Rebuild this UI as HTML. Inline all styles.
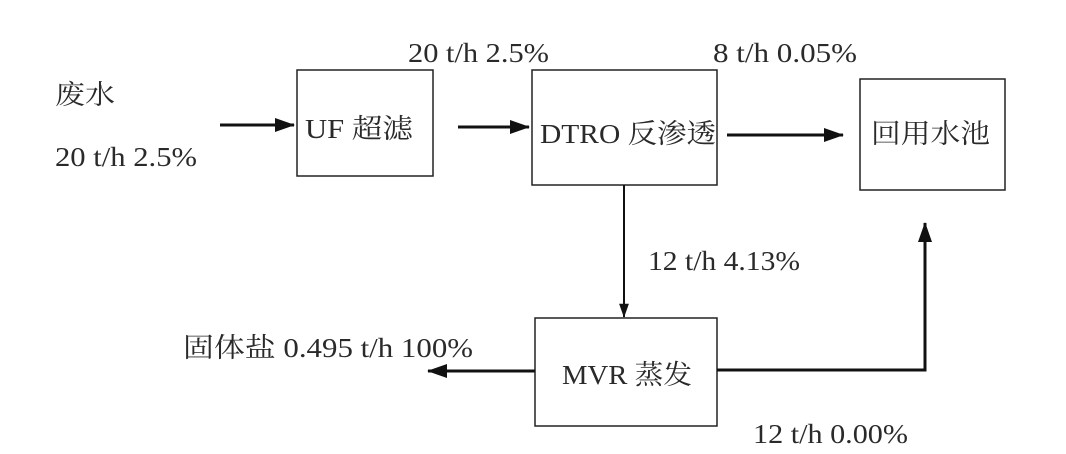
<!DOCTYPE html>
<html><head><meta charset="utf-8"><style>
html,body{margin:0;padding:0;background:#fff;}
svg{display:block;}
text{font-family:"Liberation Serif","Noto Serif CJK SC",serif;font-size:27px;fill:#2a2a2a;}
</style></head><body>
<svg width="1066" height="454" viewBox="0 0 1066 454" xmlns="http://www.w3.org/2000/svg">
<defs>
<marker id="a" markerWidth="14" markerHeight="20" refX="19" refY="7" orient="auto" markerUnits="userSpaceOnUse" viewBox="0 0 20 14">
<path d="M0,0 L20,7 L0,14 Z" fill="#111"/></marker>
<marker id="b" markerWidth="20" markerHeight="20" refX="19" refY="8" orient="auto" markerUnits="userSpaceOnUse">
<path d="M0,1 L20,8 L0,15 Z" fill="#111"/></marker>
</defs>
<g fill="none" stroke="#222" stroke-width="1.5">
<rect x="297" y="70" width="136" height="106"/>
<rect x="532" y="70" width="185" height="115"/>
<rect x="860" y="79" width="145" height="111"/>
<rect x="535" y="318" width="182" height="108"/>
</g>
<g stroke="#111" stroke-width="3" fill="none">
<line x1="220" y1="125" x2="294" y2="125" marker-end="url(#b)"/>
<line x1="458" y1="127" x2="529" y2="127" marker-end="url(#b)"/>
<line x1="727" y1="135" x2="843" y2="135" marker-end="url(#b)"/>
<line x1="535" y1="371" x2="428" y2="371" marker-end="url(#b)"/>
<polyline points="717,370 925,370 925,223" marker-end="url(#b)"/>
</g>
<line x1="624" y1="185" x2="624" y2="317" stroke="#111" stroke-width="2" marker-end="url(#a)"/>
<text x="305" y="138" textLength="108" lengthAdjust="spacingAndGlyphs">UF 超滤</text>
<text x="540" y="143" textLength="176" lengthAdjust="spacingAndGlyphs">DTRO 反渗透</text>
<text x="871" y="143" textLength="119" lengthAdjust="spacingAndGlyphs">回用水池</text>
<text x="562" y="384" textLength="130" lengthAdjust="spacingAndGlyphs">MVR 蒸发</text>
<text x="55" y="104" textLength="60" lengthAdjust="spacingAndGlyphs">废水</text>
<text x="55" y="166" textLength="142" lengthAdjust="spacingAndGlyphs">20 t/h 2.5%</text>
<text x="408" y="62" textLength="141" lengthAdjust="spacingAndGlyphs">20 t/h 2.5%</text>
<text x="713" y="62" textLength="144" lengthAdjust="spacingAndGlyphs">8 t/h 0.05%</text>
<text x="648" y="270" textLength="152" lengthAdjust="spacingAndGlyphs">12 t/h 4.13%</text>
<text x="183" y="357" textLength="290" lengthAdjust="spacingAndGlyphs">固体盐 0.495 t/h 100%</text>
<text x="753" y="443" textLength="155" lengthAdjust="spacingAndGlyphs">12 t/h 0.00%</text>
</svg>
</body></html>
